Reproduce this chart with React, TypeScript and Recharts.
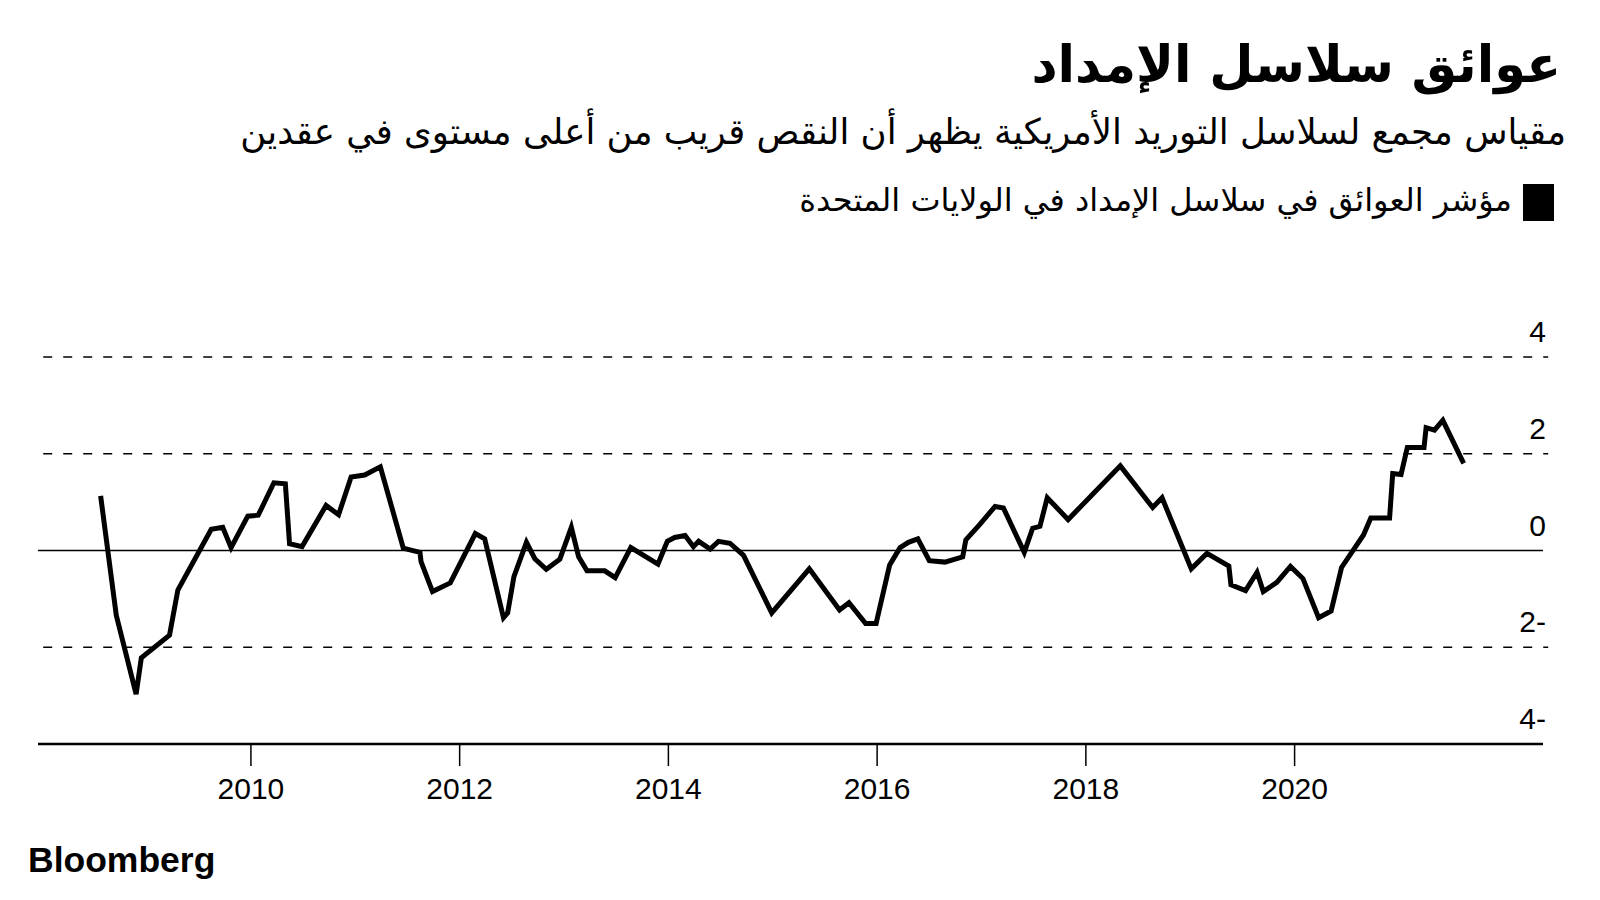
import { LineChart, Line, XAxis, YAxis, ReferenceLine } from 'recharts';

// decimal year of each vertex
const dates = [
  2008.56, 2008.71, 2008.9, 2008.95, 2009.22, 2009.3, 2009.62, 2009.73, 2009.81, 2009.97,
  2010.07, 2010.22, 2010.33, 2010.37, 2010.49, 2010.72, 2010.84, 2010.96, 2011.09, 2011.24,
  2011.46, 2011.62, 2011.63, 2011.74, 2011.91, 2012.15, 2012.24, 2012.42, 2012.46, 2012.52,
  2012.64, 2012.72, 2012.83, 2012.96, 2013.07, 2013.14, 2013.22, 2013.39, 2013.49, 2013.64,
  2013.9, 2013.99, 2014.06, 2014.16, 2014.24, 2014.29, 2014.4, 2014.48, 2014.59, 2014.72,
  2014.99, 2015.35, 2015.64, 2015.73, 2015.89, 2015.99, 2016.12, 2016.22, 2016.3, 2016.39,
  2016.5, 2016.65, 2016.82, 2016.85, 2016.98, 2017.13, 2017.21, 2017.41, 2017.49, 2017.56,
  2017.63, 2017.83, 2018.33, 2018.64, 2018.73, 2019.01, 2019.16, 2019.37, 2019.39, 2019.53,
  2019.64, 2019.7, 2019.83, 2019.96, 2020.08, 2020.23, 2020.35, 2020.45, 2020.66, 2020.73,
  2020.91, 2020.94, 2021.02, 2021.08, 2021.24, 2021.26, 2021.34, 2021.42, 2021.62,
];

// supply chain index values
const values = [
  1.13, -1.34, -2.97, -2.22, -1.75, -0.82, 0.44, 0.48, 0.06, 0.71,
  0.73, 1.4, 1.38, 0.14, 0.08, 0.93, 0.74, 1.52, 1.56, 1.73,
  0.05, -0.04, -0.23, -0.85, -0.67, 0.35, 0.24, -1.39, -1.29, -0.54,
  0.17, -0.17, -0.39, -0.18, 0.48, -0.13, -0.42, -0.42, -0.56, 0.06,
  -0.28, 0.19, 0.27, 0.31, 0.08, 0.19, 0.03, 0.19, 0.15, -0.1,
  -1.29, -0.38, -1.23, -1.08, -1.51, -1.51, -0.3, 0.06, 0.17, 0.24,
  -0.21, -0.24, -0.13, 0.22, 0.53, 0.91, 0.88, -0.04, 0.46, 0.5,
  1.09, 0.64, 1.75, 0.89, 1.09, -0.38, -0.06, -0.32, -0.71, -0.83,
  -0.45, -0.85, -0.66, -0.33, -0.58, -1.39, -1.25, -0.35, 0.32, 0.67,
  0.67, 1.59, 1.57, 2.13, 2.13, 2.54, 2.49, 2.69, 1.8,
];

const yearTicks = [2010, 2012, 2014, 2016, 2018, 2020];
const valueTicks = [-4, -2, 0, 2, 4];
const dashedLevels = [4, 2, -2];

const title = 'عوائق سلاسل الإمداد';
const subtitle = 'مقياس مجمع لسلاسل التوريد الأمريكية يظهر أن النقص قريب من أعلى مستوى في عقدين';
const legendLabel = 'مؤشر العوائق في سلاسل الإمداد في الولايات المتحدة';

const data = dates.map((t, i) => ({ t, value: values[i] }));

const numFont = '"Liberation Sans", Arial, sans-serif';
const arabicFont = '"DejaVu Sans", sans-serif';

const YTick = ({ y, payload }: any) => {
  const v = payload.value;
  const label = v < 0 ? `${Math.abs(v)}-` : `${v}`;
  return (
    <text x={1546} y={y - 15} textAnchor="end" fontSize={30} fontFamily={numFont} fill="#000">
      {label}
    </text>
  );
};

export default function App() {
  return (
    <div style={{ position: 'absolute', left: 0, top: 0, width: 1600, height: 900, background: '#fff' }}>
      <LineChart
        width={1600}
        height={900}
        data={data}
        margin={{ top: 357, right: 0, bottom: 96, left: 38 }}
      >
        <XAxis
          dataKey="t"
          type="number"
          domain={[2007.96, 2022.38]}
          ticks={yearTicks}
          height={60}
          tickSize={22}
          tickMargin={12}
          axisLine={{ stroke: '#000', strokeWidth: 2.5 }}
          tickLine={{ stroke: '#000', strokeWidth: 1.5 }}
          tick={{ fontSize: 30, fill: '#000', fontFamily: numFont }}
          allowDataOverflow
        />
        <YAxis
          orientation="right"
          type="number"
          domain={[-4, 4]}
          ticks={valueTicks}
          width={57}
          axisLine={false}
          tickLine={false}
          tick={<YTick />}
        />
        {dashedLevels.map((lv) => (
          <ReferenceLine
            key={lv}
            segment={[{ x: 2008.01, y: lv }, { x: 2022.43, y: lv }]}
            ifOverflow="visible"
            stroke="#000"
            strokeWidth={1.5}
            strokeDasharray="9 11"
          />
        ))}
        <ReferenceLine y={0} stroke="#000" strokeWidth={1.5} />
        <Line
          type="linear"
          dataKey="value"
          stroke="#000"
          strokeWidth={5}
          dot={false}
          activeDot={false}
          isAnimationActive={false}
        />
      </LineChart>
      <svg width={1600} height={900} style={{ position: 'absolute', left: 0, top: 0, pointerEvents: 'none' }}>
        <text x={1561} y={82} textAnchor="end" fontSize={51} fontWeight="bold" fontFamily={arabicFont} fill="#000">
          {title}
        </text>
        <text x={1566} y={144} textAnchor="end" fontSize={35.5} fontFamily={arabicFont} fill="#000">
          {subtitle}
        </text>
        <rect x={1523} y={184} width={31} height={37} fill="#000" />
        <text x={1512} y={211} textAnchor="end" fontSize={32} fontFamily={arabicFont} fill="#000">
          {legendLabel}
        </text>
        <text x={28} y={872} fontSize={35.5} fontWeight="bold" fontFamily={numFont} fill="#000">
          Bloomberg
        </text>
      </svg>
    </div>
  );
}
